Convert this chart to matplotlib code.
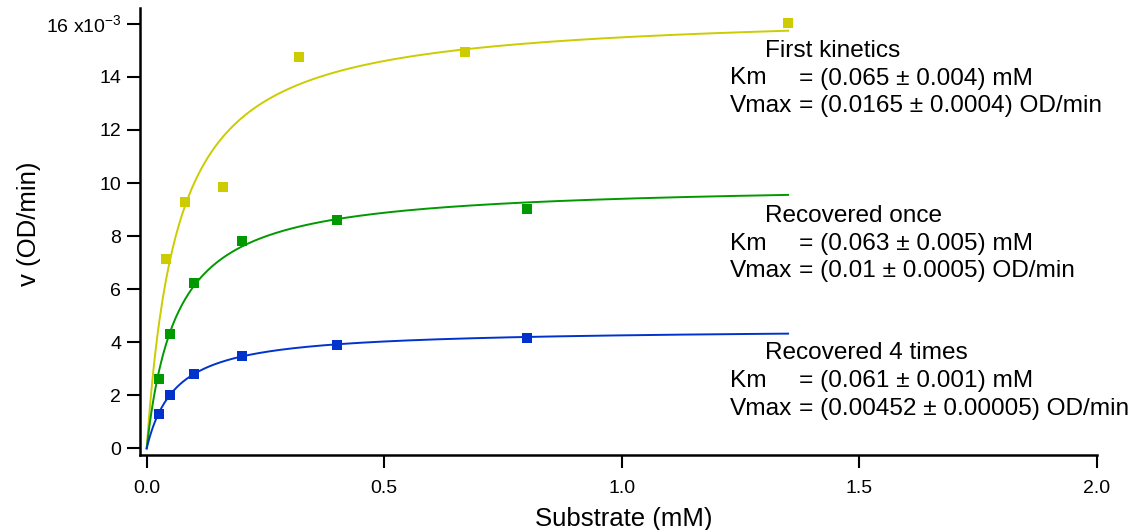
"""
Michaelis-Menten kinetics of the enzyme before and after recovery.
Points are measured rates, lines are fitted v = Vmax*S/(Km+S).
"""
import numpy as np
import matplotlib.pyplot as plt

plt.rcParams["font.family"] = ["Liberation Sans", "DejaVu Sans"]
plt.rcParams["mathtext.fontset"] = "custom"
plt.rcParams["mathtext.rm"] = "Liberation Sans"

# ---------------------------------------------------------------------------
# Data (v in units of 1e-3 OD/min, substrate in mM)
# ---------------------------------------------------------------------------
S_first = [0.04, 0.08, 0.16, 0.32, 0.67, 1.35]
v_first = [7.15, 9.3, 9.85, 14.75, 14.95, 16.05]

S_once = [0.025, 0.05, 0.1, 0.2, 0.4, 0.8]
v_once = [2.63, 4.32, 6.24, 7.82, 8.62, 9.03]

S_four = [0.025, 0.05, 0.1, 0.2, 0.4, 0.8]
v_four = [1.3, 2.01, 2.82, 3.49, 3.91, 4.17]

# fitted parameters (Km in mM, Vmax in 1e-3 OD/min)
KM = [0.065, 0.063, 0.061]
VMAX = [16.5, 10.0, 4.52]
S_FIT_MAX = 1.35

NAMES = ["First kinetics", "Recovered once", "Recovered 4 times"]
KM_TEXT = ["= (0.065 ± 0.004) mM", "= (0.063 ± 0.005) mM", "= (0.061 ± 0.001) mM"]
VMAX_TEXT = ["= (0.0165 ± 0.0004) OD/min", "= (0.01 ± 0.0005) OD/min",
             "= (0.00452 ± 0.00005) OD/min"]
COLORS = ["#cccc00", "#009900", "#0033cc"]

Y_TICKS = [0, 2, 4, 6, 8, 10, 12, 14, 16]
Y_TICK_LABELS = [str(t) for t in Y_TICKS[:-1]] + [r"16 x10$^{-3}$"]
X_TICKS = [0.0, 0.5, 1.0, 1.5, 2.0]


def michaelis_menten(S, vmax, km):
    return vmax * S / (km + S)


# ---------------------------------------------------------------------------
# Plot
# ---------------------------------------------------------------------------
fig = plt.figure(figsize=(11.32, 5.30), dpi=100)
ax = fig.add_axes([0.1237, 0.1415, 0.969 - 0.1237, 0.985 - 0.1415])

S_fit = np.linspace(0, S_FIT_MAX, 400)
datasets = [(S_first, v_first), (S_once, v_once), (S_four, v_four)]
for (S, v), km, vmax, c in zip(datasets, KM, VMAX, COLORS):
    ax.plot(S_fit, michaelis_menten(S_fit, vmax, km), color=c, linewidth=1.4)
    ax.plot(S, v, linestyle="none", marker="s", markersize=6.5,
            color=c, markeredgewidth=0)

ax.set_xlim(-0.014, 2.0)
ax.set_ylim(-0.25, 16.6)
ax.set_xticks(X_TICKS)
ax.set_xticklabels([f"{t:.1f}" for t in X_TICKS])
ax.set_yticks(Y_TICKS)
ax.set_yticklabels(Y_TICK_LABELS)

for side in ["top", "right"]:
    ax.spines[side].set_visible(False)
for side in ["left", "bottom"]:
    ax.spines[side].set_linewidth(1.8)
ax.tick_params(direction="out", length=9.5, width=1.5, labelsize=14)
ax.tick_params(axis="x", pad=8.5)
ax.tick_params(axis="y", pad=4)

ax.set_xlabel("Substrate (mM)", fontsize=18.5)
ax.set_ylabel("v (OD/min)", fontsize=18.5)
ax.xaxis.set_label_coords(0.506, -0.117)
ax.yaxis.set_label_coords(-0.103, 0.517)

# fit result boxes, placed in pixel coordinates of the figure (baselines)
W, H = 1132, 530
box_baselines = [56.7, 221.7, 359.3]
for name, kt, vt, y0 in zip(NAMES, KM_TEXT, VMAX_TEXT, box_baselines):
    rows = [(765, y0, name), (730, y0 + 27.8, "Km"), (799, y0 + 27.8, kt),
            (730, y0 + 55.5, "Vmax"), (799, y0 + 55.5, vt)]
    for px, py, s in rows:
        fig.text(px / W, 1 - py / H, s, fontsize=17.6, va="baseline", ha="left")

fig.savefig("out.png", dpi=100)
